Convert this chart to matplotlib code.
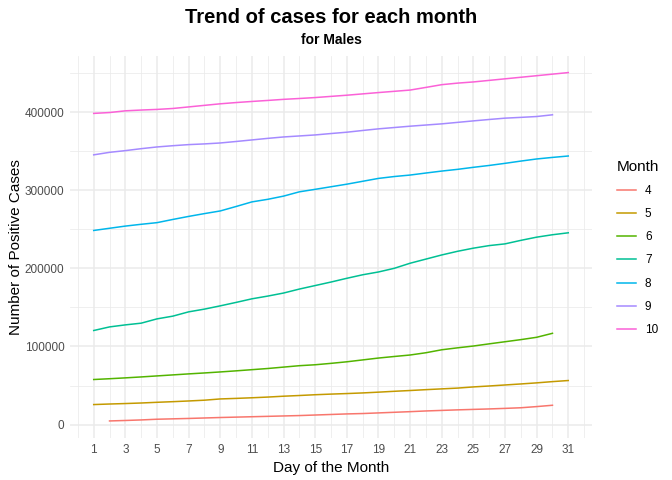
import numpy as np
import matplotlib.pyplot as plt
from matplotlib.ticker import MultipleLocator, FixedLocator

# ───────────────────────────────────────────────
# Data
# ───────────────────────────────────────────────
months = [4, 5, 6, 7, 8, 9, 10]
colors = ['#F8766D', '#C49A00', '#53B400', '#00C094', '#00B6EB', '#A58AFF', '#FB61D7']

days_m4 = list(range(2, 31))
cases_m4 = [4600, 5200, 5900, 6800, 7300, 7800, 8400, 9000, 9500, 10000, 10500, 11000,
            11500, 12200, 12900, 13600, 14100, 14900, 15700, 16500, 17400, 18100, 18800,
            19400, 20000, 20700, 21500, 23000, 24700]

days_m5 = list(range(1, 32))
cases_m5 = [25600, 26300, 26900, 27600, 28500, 29300, 30200, 31200, 32800, 33500, 34300,
            35200, 36300, 37200, 38200, 39000, 39700, 40500, 41500, 42600, 43600, 44700,
            45700, 46700, 48200, 49400, 50700, 52000, 53400, 55000, 56400]

days_m6 = list(range(1, 31))
cases_m6 = [57700, 58700, 59800, 61000, 62300, 63600, 64900, 66100, 67400, 68800, 70300,
            71800, 73600, 75400, 76600, 78400, 80400, 82800, 85200, 87200, 89100, 92000,
            95800, 98300, 100600, 103400, 106100, 108800, 111800, 116900]

days_m7 = list(range(1, 32))
cases_m7 = [120500, 125100, 127700, 129900, 135400, 138900, 144400, 147900, 152100, 156500,
            161100, 164600, 168500, 173600, 178100, 182600, 187400, 191900, 195500, 200200,
            206700, 212000, 217300, 222000, 226000, 229300, 231500, 236000, 240100, 243200,
            245700]

days_m8 = list(range(1, 32))
cases_m8 = [248700, 251500, 254300, 256600, 258700, 262800, 266700, 270300, 273700, 279400,
            285300, 288600, 292700, 298200, 301400, 304700, 308000, 311700, 315400, 317800,
            319700, 322300, 324800, 327000, 329600, 332000, 334700, 337600, 340300, 342300,
            344100]

days_m9 = list(range(1, 31))
cases_m9 = [345600, 348800, 351000, 353500, 355700, 357300, 358700, 359600, 360800, 362700,
            364700, 366700, 368500, 369800, 371100, 372900, 374600, 376800, 378900, 380600,
            382300, 383800, 385300, 387200, 389100, 390900, 392600, 393600, 394700, 396900]

days_m10 = list(range(1, 32))
cases_m10 = [398700, 399800, 402000, 403000, 403800, 405000, 407000, 409000, 411000, 412600,
             414000, 415300, 416700, 417800, 419000, 420500, 422000, 423700, 425400, 427000,
             428600, 432000, 435500, 437500, 439000, 441000, 443000, 445000, 447000, 449000,
             451000]

series = [(days_m4, cases_m4), (days_m5, cases_m5), (days_m6, cases_m6), (days_m7, cases_m7),
          (days_m8, cases_m8), (days_m9, cases_m9), (days_m10, cases_m10)]

# ───────────────────────────────────────────────
# Plot (ggplot theme_minimal look)
# ───────────────────────────────────────────────
plt.rcParams['font.family'] = ['Liberation Sans', 'DejaVu Sans']

fig = plt.figure(figsize=(6.72, 4.8), dpi=100)
ax = fig.add_axes([70 / 672, 42 / 480, 522 / 672, 382 / 480])

for m, col, (d, c) in zip(months, colors, series):
    ax.plot(d, c, color=col, lw=1.1, label=str(m), zorder=3)

ax.set_xlim(-0.5, 32.5)
ax.set_ylim(-17250, 472250)
ax.xaxis.set_major_locator(FixedLocator(list(range(1, 32, 2))))
ax.xaxis.set_minor_locator(FixedLocator(list(range(0, 33, 2))))
ax.yaxis.set_major_locator(MultipleLocator(100000))
ax.yaxis.set_minor_locator(FixedLocator([50000, 150000, 250000, 350000, 450000]))
ax.ticklabel_format(axis='y', style='plain')

ax.grid(True, which='major', color='#EBEBEB', lw=1.1, zorder=0)
ax.grid(True, which='minor', color='#EBEBEB', lw=0.55, zorder=0)
ax.set_axisbelow(True)
for s in ax.spines.values():
    s.set_visible(False)
ax.tick_params(which='both', length=0, labelsize=8.5, labelcolor='#4D4D4D', pad=4)

ax.set_xlabel('Day of the Month', fontsize=11, labelpad=4)
ax.set_ylabel('Number of Positive Cases', fontsize=11, labelpad=1)

fig.text(331 / 672, 1 - 23 / 480, 'Trend of cases for each month', ha='center', va='baseline',
         fontsize=14.5, fontweight='bold')
fig.text(331 / 672, 1 - 43.5 / 480, 'for Males', ha='center', va='baseline',
         fontsize=10, fontweight='bold')

leg = ax.legend(title='Month', loc='upper left', bbox_to_anchor=(606 / 672, 1 - 149 / 480),
                bbox_transform=fig.transFigure, frameon=False, fontsize=8.5,
                title_fontsize=11, handlelength=1.6, labelspacing=0.95, handletextpad=0.8)
leg._legend_box.align = 'left'

fig.savefig('out.png', dpi=100)
